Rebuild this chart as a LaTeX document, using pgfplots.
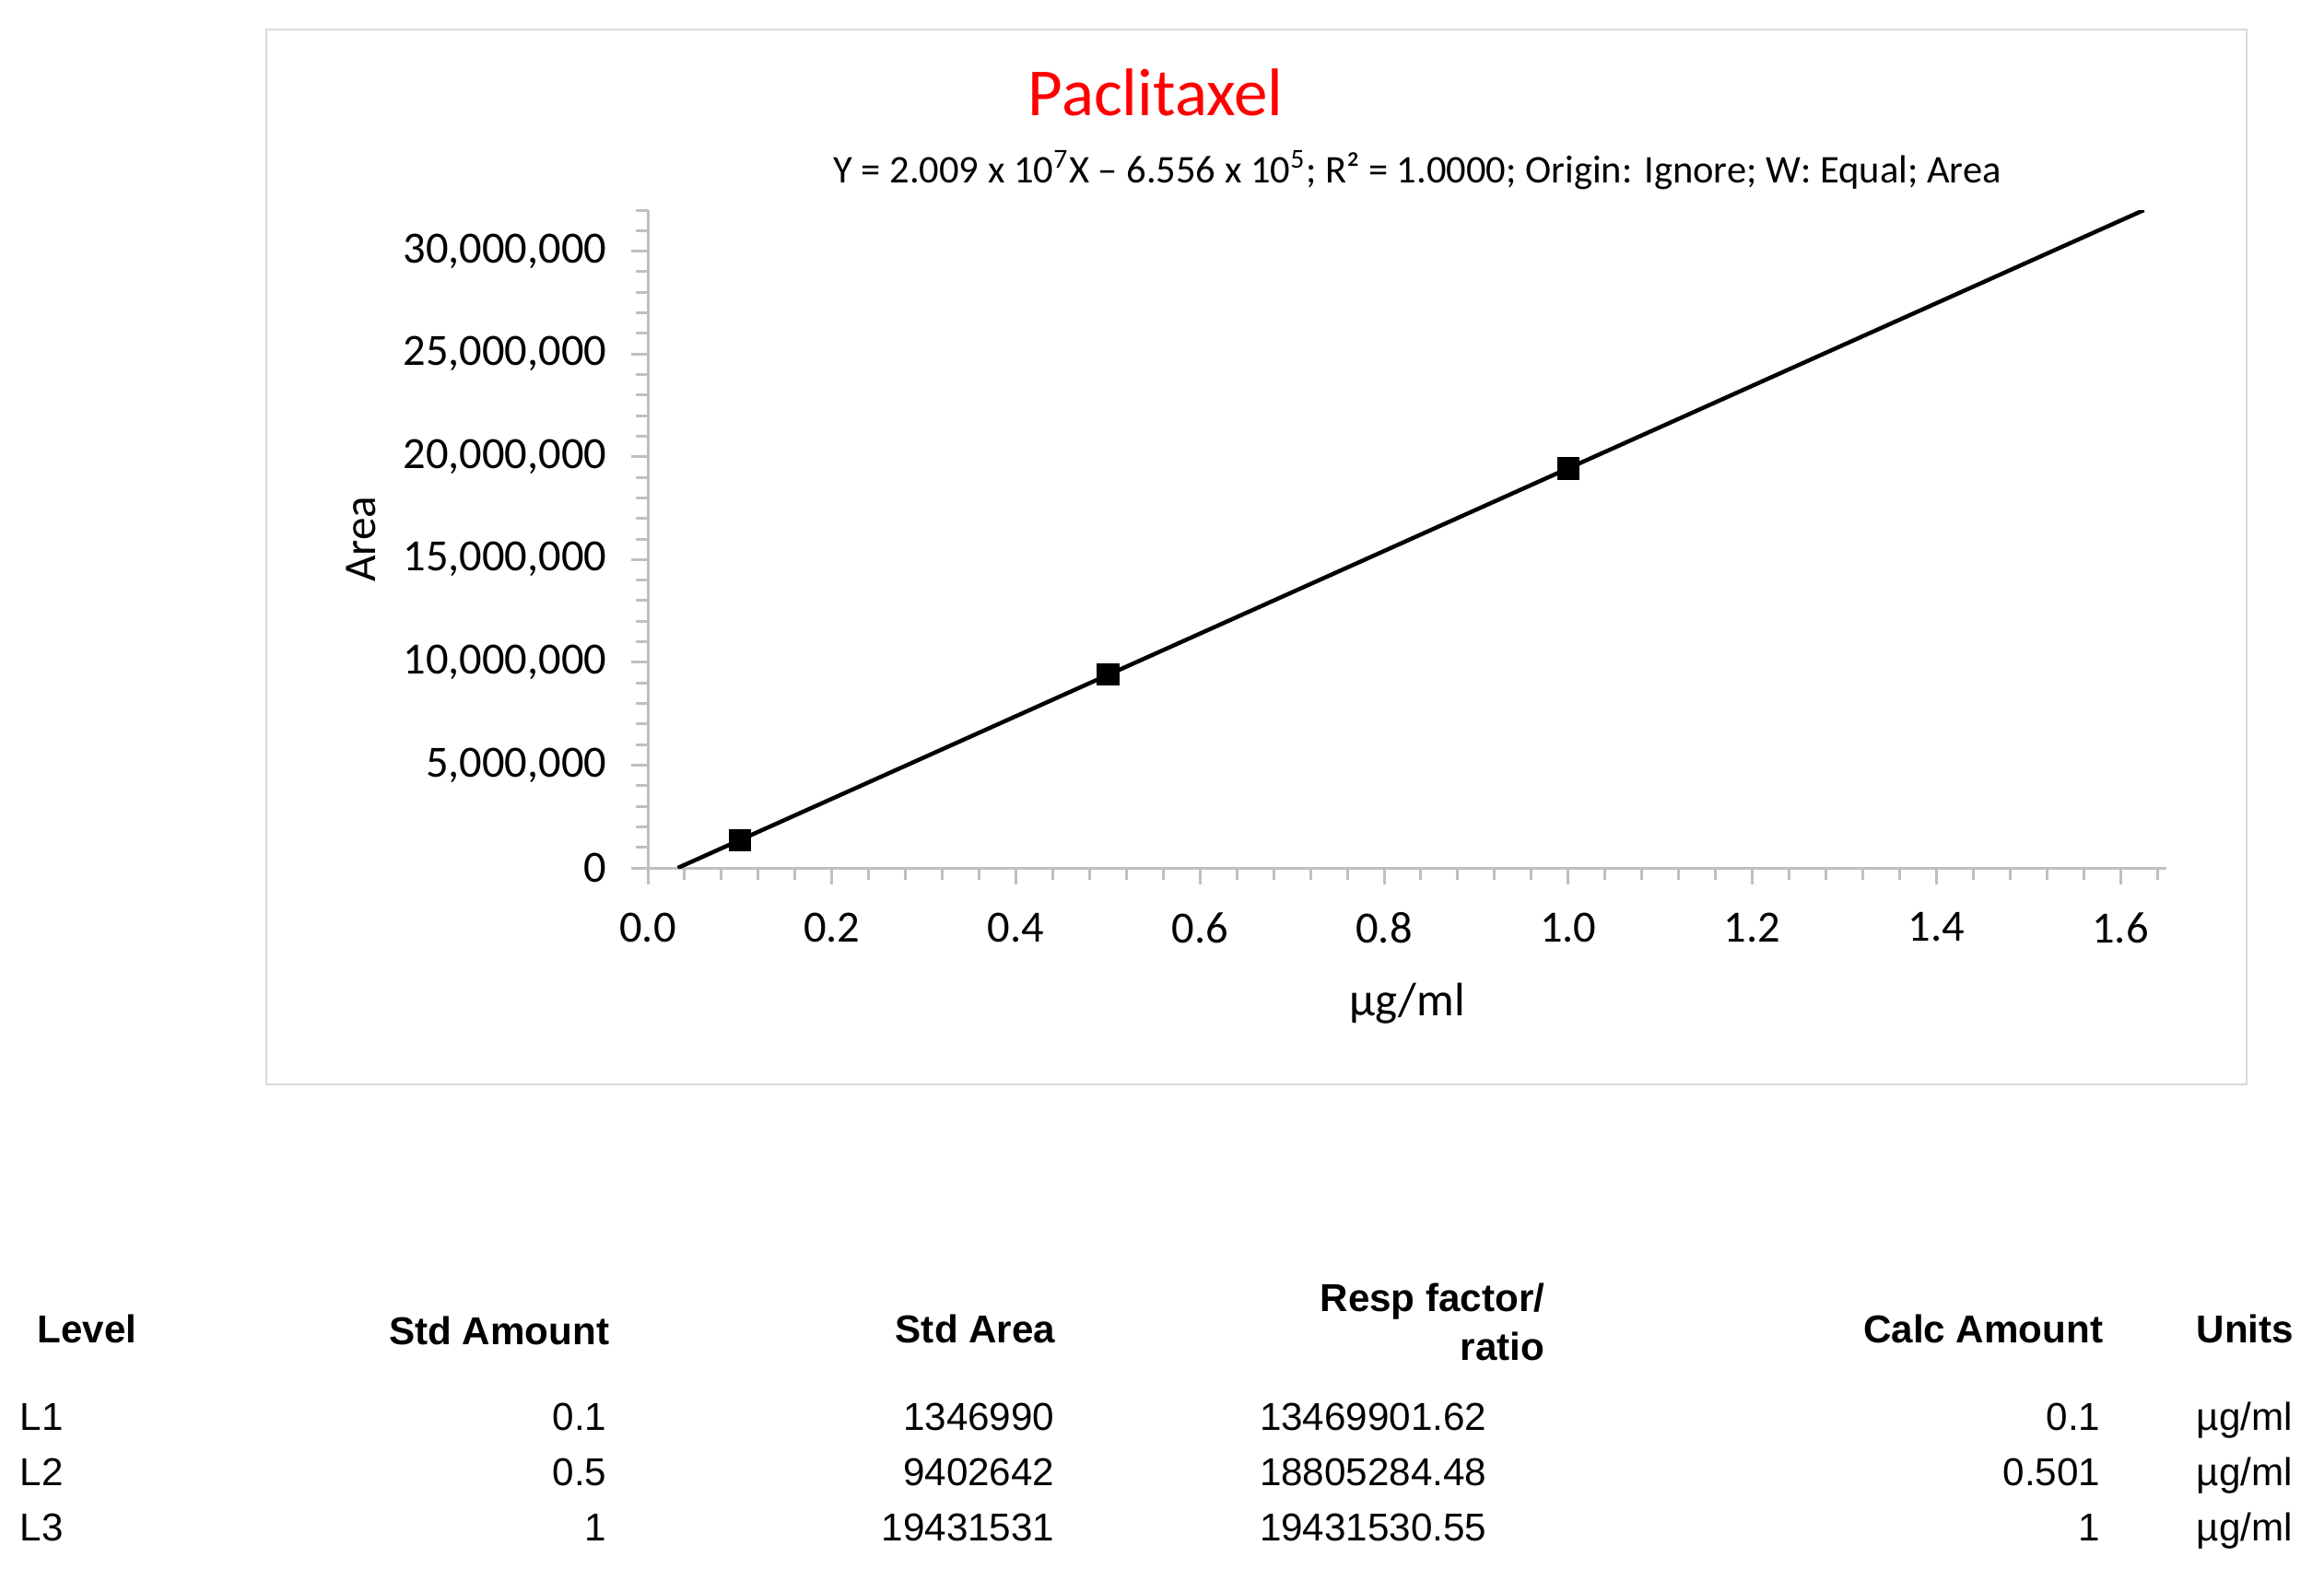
\documentclass[border=0pt]{standalone}
\usepackage{fontspec}
\setmainfont{Carlito}
\newfontfamily\tabfont{Liberation Sans}
\usepackage{pgfplots}
\pgfplotsset{compat=1.18}
\definecolor{axgray}{HTML}{BFBFBF}
\definecolor{frgray}{HTML}{D9D9D9}
\begin{document}
\begin{tikzpicture}
\path (0,0) rectangle (252.2mm,-170.2mm);
\draw[frgray, line width=0.25mm] (28.9mm,-3.2mm) rectangle (243.8mm,-117.7mm);
\node[anchor=base, inner sep=0, text=red, font=\fontsize{20.8}{24}\selectfont] at (125.4mm,-12.5mm) {Paclitaxel};
\node[anchor=base, inner sep=0, font=\fontsize{12.1}{14}\selectfont] at (153.8mm,-19.8mm) {Y = 2.009 x 10\textsuperscript{7}X – 6.556 x 10\textsuperscript{5}; R² = 1.0000; Origin: Ignore; W: Equal; Area};
\begin{axis}[
  at={(70.3mm,-94.2mm)}, anchor=south west,
  scale only axis, width=164.8mm, height=71.4mm,
  xmin=0, xmax=1.65, ymin=0, ymax=32000000,
  axis x line*=bottom, axis y line*=left,
  axis line style={axgray, line width=0.3mm},
  xtick={0,0.2,0.4,0.6,0.8,1.0,1.2,1.4,1.6},
  minor xtick={0.04,0.08,0.12,0.16,0.24,0.28,0.32,0.36,0.44,0.48,0.52,0.56,0.64,0.68,0.72,0.76,0.84,0.88,0.92,0.96,1.04,1.08,1.12,1.16,1.24,1.28,1.32,1.36,1.44,1.48,1.52,1.56,1.64},
  ytick={0,5000000,10000000,15000000,20000000,25000000,30000000},
  minor ytick={1000000,2000000,3000000,4000000,6000000,7000000,8000000,9000000,11000000,12000000,13000000,14000000,16000000,17000000,18000000,19000000,21000000,22000000,23000000,24000000,26000000,27000000,28000000,29000000,31000000,32000000},
  tick align=outside,
  major tick length=1.8mm, minor tick length=1.3mm,
  every tick/.style={axgray, line width=0.3mm},
  scaled x ticks=false, scaled y ticks=false,
  /pgf/number format/assume math mode=true,
  xticklabel style={/pgf/number format/fixed, /pgf/number format/fixed zerofill, /pgf/number format/precision=1, anchor=north, yshift=-3.0mm},
  yticklabel style={/pgf/number format/fixed, /pgf/number format/1000 sep={,}, anchor=east, xshift=-2.6mm},
  tick label style={font=\fontsize{13.8}{15}\selectfont, inner sep=0pt},
  xlabel={µg/ml},
  ylabel={Area},
  xlabel style={at={([yshift=-16.0mm]axis description cs:0.5,0)}, anchor=base, inner sep=0pt, font=\fontsize{14.5}{17}\selectfont},
  ylabel style={at={([xshift=-29.6mm]axis description cs:0,0.5)}, anchor=base, inner sep=0pt, font=\fontsize{14}{17}\selectfont},
  clip=true,
]
\addplot[black, line width=0.45mm, no marks] coordinates {(0.03263,0) (1.62547,32000000)};
\addplot[only marks, mark=square*, mark size=1.15mm, black] coordinates {(0.1,1346990) (0.5,9402642) (1,19431531)};
\end{axis}
\begin{scope}[every node/.style={inner sep=0pt, font=\tabfont\fontsize{12}{14}\selectfont}]
\node[anchor=base west] at (4.0mm,-145.7mm) {\bfseries Level};
\node[anchor=base east] at (66.2mm,-145.9mm) {\bfseries Std Amount};
\node[anchor=base east] at (114.6mm,-145.7mm) {\bfseries Std Area};
\node[anchor=base east] at (167.7mm,-142.3mm) {\bfseries Resp factor/};
\node[anchor=base east] at (167.7mm,-147.6mm) {\bfseries ratio};
\node[anchor=base east] at (228.3mm,-145.7mm) {\bfseries Calc Amount};
\node[anchor=base west] at (238.3mm,-145.7mm) {\bfseries Units};
\node[anchor=base west] at (2.1mm,-155.2mm) {L1};
\node[anchor=base west] at (2.1mm,-161.2mm) {L2};
\node[anchor=base west] at (2.1mm,-167.2mm) {L3};
\node[anchor=base east] at (65.9mm,-155.2mm) {0.1};
\node[anchor=base east] at (65.9mm,-161.2mm) {0.5};
\node[anchor=base east] at (65.9mm,-167.2mm) {1};
\node[anchor=base east] at (114.5mm,-155.2mm) {1346990};
\node[anchor=base east] at (114.5mm,-161.2mm) {9402642};
\node[anchor=base east] at (114.5mm,-167.2mm) {19431531};
\node[anchor=base east] at (161.4mm,-155.2mm) {13469901.62};
\node[anchor=base east] at (161.4mm,-161.2mm) {18805284.48};
\node[anchor=base east] at (161.4mm,-167.2mm) {19431530.55};
\node[anchor=base east] at (228.0mm,-155.2mm) {0.1};
\node[anchor=base east] at (228.0mm,-161.2mm) {0.501};
\node[anchor=base east] at (228.0mm,-167.2mm) {1};
\node[anchor=base west] at (238.3mm,-155.2mm) {µg/ml};
\node[anchor=base west] at (238.3mm,-161.2mm) {µg/ml};
\node[anchor=base west] at (238.3mm,-167.2mm) {µg/ml};
\end{scope}
\end{tikzpicture}
\end{document}
